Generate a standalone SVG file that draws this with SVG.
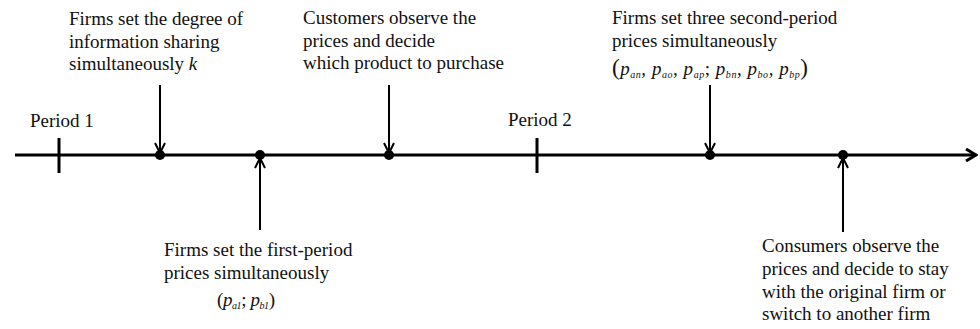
<svg xmlns="http://www.w3.org/2000/svg" width="980" height="329" viewBox="0 0 980 329">
<style>
text{font-family:"Liberation Serif","Times New Roman",serif;font-size:19px;fill:#111}
.m{font-style:italic}
.s{font-size:10px;font-style:italic}
.p{font-size:23px}
.ln{stroke:#000;stroke-width:2;fill:none}
.axis{stroke:#000;stroke-width:3;fill:none}
.dot{fill:#000}
</style>
<defs>
<marker id="ah" viewBox="0 0 12 12" refX="11" refY="6" markerWidth="12" markerHeight="12" markerUnits="userSpaceOnUse" orient="auto">
<path d="M1,1 L11,6 L1,11" fill="none" stroke="#000" stroke-width="2"/>
</marker>
<marker id="axh" viewBox="0 0 14 14" refX="12" refY="7" markerWidth="14" markerHeight="14" markerUnits="userSpaceOnUse" orient="auto">
<path d="M2,1 L12,7 L2,13" fill="none" stroke="#000" stroke-width="3"/>
</marker>
</defs>
<g id="connectors">
<line class="axis" x1="15" y1="155" x2="976" y2="155" marker-end="url(#axh)"/>
<line class="ln" x1="160" y1="85" x2="160" y2="153" marker-end="url(#ah)"/>
<line class="ln" x1="260" y1="230" x2="260" y2="158" marker-end="url(#ah)"/>
<line class="ln" x1="389" y1="85" x2="389" y2="153" marker-end="url(#ah)"/>
<line class="ln" x1="710" y1="85" x2="710" y2="153" marker-end="url(#ah)"/>
<line class="ln" x1="843" y1="232" x2="843" y2="158" marker-end="url(#ah)"/>
</g>
<g id="period1">
<line class="axis" x1="59" y1="138" x2="59" y2="173"/>
<text x="30" y="127">Period 1</text>
</g>
<g id="period2">
<line class="axis" x1="537" y1="138" x2="537" y2="173"/>
<text x="508" y="126">Period 2</text>
</g>
<g id="event1">
<circle class="dot" cx="160" cy="155" r="5"/>
<text x="69" y="25">Firms set the degree of</text>
<text x="69" y="47.5">information sharing</text>
<text x="69" y="70">simultaneously <tspan class="m">k</tspan></text>
</g>
<g id="event2">
<circle class="dot" cx="260" cy="155" r="5"/>
<text x="164" y="256">Firms set the first-period</text>
<text x="164" y="279">prices simultaneously</text>
<text x="217" y="306" textLength="58" lengthAdjust="spacing">(<tspan class="m">p</tspan><tspan class="s" dy="3">a1</tspan><tspan dy="-3">; </tspan><tspan class="m">p</tspan><tspan class="s" dy="3">b1</tspan><tspan dy="-3">)</tspan></text>
</g>
<g id="event3">
<circle class="dot" cx="389" cy="155" r="5"/>
<text x="303" y="24">Customers observe the</text>
<text x="303" y="46.5">prices and decide</text>
<text x="303" y="69">which product to purchase</text>
</g>
<g id="event4">
<circle class="dot" cx="710" cy="155" r="5"/>
<text x="612" y="24">Firms set three second-period</text>
<text x="612" y="46.5">prices simultaneously</text>
<text x="612" y="75" textLength="196" lengthAdjust="spacing"><tspan class="p">(</tspan><tspan class="m">p</tspan><tspan class="s" dy="3">an</tspan><tspan dy="-3">, </tspan><tspan class="m">p</tspan><tspan class="s" dy="3">ao</tspan><tspan dy="-3">, </tspan><tspan class="m">p</tspan><tspan class="s" dy="3">ap</tspan><tspan dy="-3">; </tspan><tspan class="m">p</tspan><tspan class="s" dy="3">bn</tspan><tspan dy="-3">, </tspan><tspan class="m">p</tspan><tspan class="s" dy="3">bo</tspan><tspan dy="-3">, </tspan><tspan class="m">p</tspan><tspan class="s" dy="3">bp</tspan><tspan class="p" dy="-3">)</tspan></text>
</g>
<g id="event5">
<circle class="dot" cx="843" cy="155" r="5"/>
<text x="762" y="252">Consumers observe the</text>
<text x="762" y="275">prices and decide to stay</text>
<text x="762" y="298">with the original firm or</text>
<text x="762" y="320">switch to another firm</text>
</g>
</svg>
